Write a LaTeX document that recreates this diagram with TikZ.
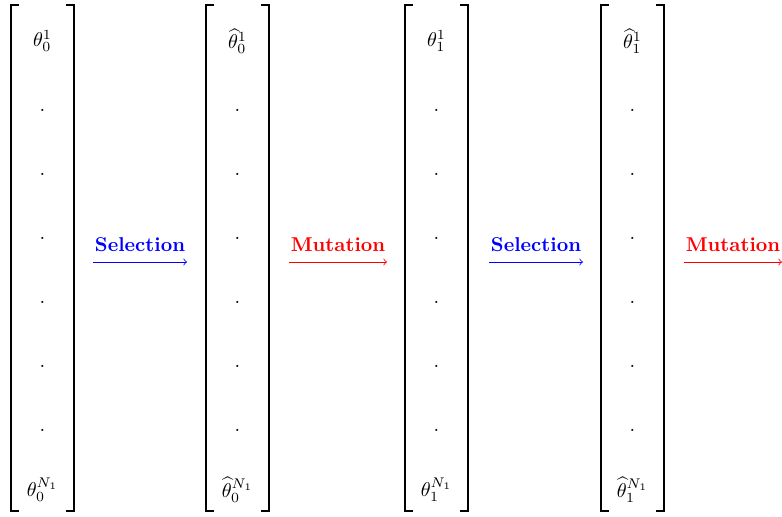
\documentclass[tikz,border=0pt]{standalone}
\usepackage{amsmath}

\begin{document}
\begin{tikzpicture}[x=0.5pt,y=-0.5pt,
                    bracket/.style={line width=0.9pt},
                    entry/.style={inner sep=0pt},
                    flow/.style={->,line width=0.4pt},
                    ]

                    \useasboundingbox (0,0) rectangle (782,516);

                    % the four populations, left edge of each column
                    \foreach \l/\c/\topent/\botent in {
                        11/pop0/{\theta_0^1}/{\theta_0^{N_1}},
                        206/sel0/{\widehat{\theta}_0^1}/{\widehat{\theta}_0^{N_1}},
                        405/pop1/{\theta_1^1}/{\theta_1^{N_1}},
                        601/sel1/{\widehat{\theta}_1^1}/{\widehat{\theta}_1^{N_1}}}
                    {
                        \draw[bracket] (\l+8,5) -- (\l,5) -- (\l,511) -- (\l+8,511);
                        \draw[bracket] (\l+55,5) -- (\l+63,5) -- (\l+63,511) -- (\l+55,511);
                        \node[entry] (\c-first) at (\l+31.5,41) {$\topent$};
                        \foreach \r in {1,...,6}
                            \node[entry] (\c-dot\r) at (\l+31.5,46+64*\r) {.};
                        \node[entry] (\c-last) at (\l+31.5,490) {$\botent$};
                    }

                    \coordinate (s0a) at (93,262);  \coordinate (s0b) at (187,262);
                    \coordinate (m0a) at (289,262); \coordinate (m0b) at (387,262);
                    \coordinate (s1a) at (489,262); \coordinate (s1b) at (583,262);
                    \coordinate (m1a) at (684,262); \coordinate (m1b) at (782,262);

                    \draw[flow,blue] (s0a) -- node[above=1.5pt] {\textbf{Selection}} (s0b);
                    \draw[flow,red] (m0a) -- node[above=1.5pt] {\textbf{Mutation}} (m0b);
                    \draw[flow,blue] (s1a) -- node[above=1.5pt] {\textbf{Selection}} (s1b);
                    \draw[flow,red] (m1a) -- node[above=1.5pt] {\textbf{Mutation}} (m1b);

                \end{tikzpicture}
\end{document}
